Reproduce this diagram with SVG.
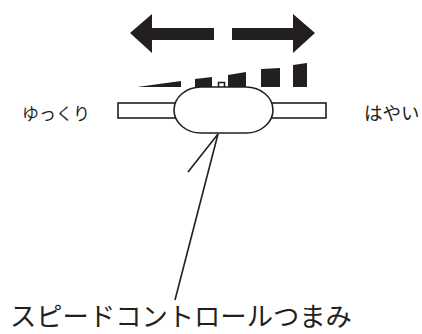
<svg xmlns="http://www.w3.org/2000/svg" width="422" height="334" viewBox="0 0 422 334">
<style>
.ln{fill:none;stroke:#231f20;stroke-width:1.6}
.sh{fill:#fff;stroke:#231f20;stroke-width:1.6}
.bk{fill:#231f20}
.t{font-family:"Noto Sans CJK JP",sans-serif;fill:#231f20}
</style>
<rect width="422" height="334" fill="#fff"/>
<g id="arrows">
<polygon class="bk" points="130,33 152,14 152,28 214,28 214,40 152,40 152,53"/>
<polygon class="bk" points="315,33 293,14 293,28 232,28 232,40 293,40 293,53"/>
</g>
<g id="speed-scale">
<polygon class="bk" points="137,87 181,81 181,87"/>
<polygon class="bk" points="195,79 212,77 212,87 195,87"/>
<polygon class="bk" points="228,75 246,72 246,87 228,87"/>
<polygon class="bk" points="261,69 280,68 280,87 261,87"/>
<polygon class="bk" points="293,65 307,63 307,87 293,87"/>
</g>
<g id="rail">
<rect class="sh" x="118" y="103" width="70" height="15"/>
<rect class="sh" x="258" y="103" width="68" height="15"/>
</g>
<g id="knob">
<rect class="sh" x="218.5" y="82.5" width="6" height="5"/>
<rect class="sh" x="174" y="87" width="99" height="46" rx="27" ry="23"/>
</g>
<g id="connectors">
<line class="ln" x1="218" y1="134" x2="188" y2="172"/>
<line class="ln" x1="218" y1="134" x2="175" y2="300"/>
</g>
<g id="labels">
<text class="t" x="22" y="120" font-size="17">ゆっくり</text>
<text class="t" x="364" y="120" font-size="18.5">はやい</text>
<text class="t" x="10" y="326" font-size="26.3">スピードコントロールつまみ</text>
</g>
</svg>
